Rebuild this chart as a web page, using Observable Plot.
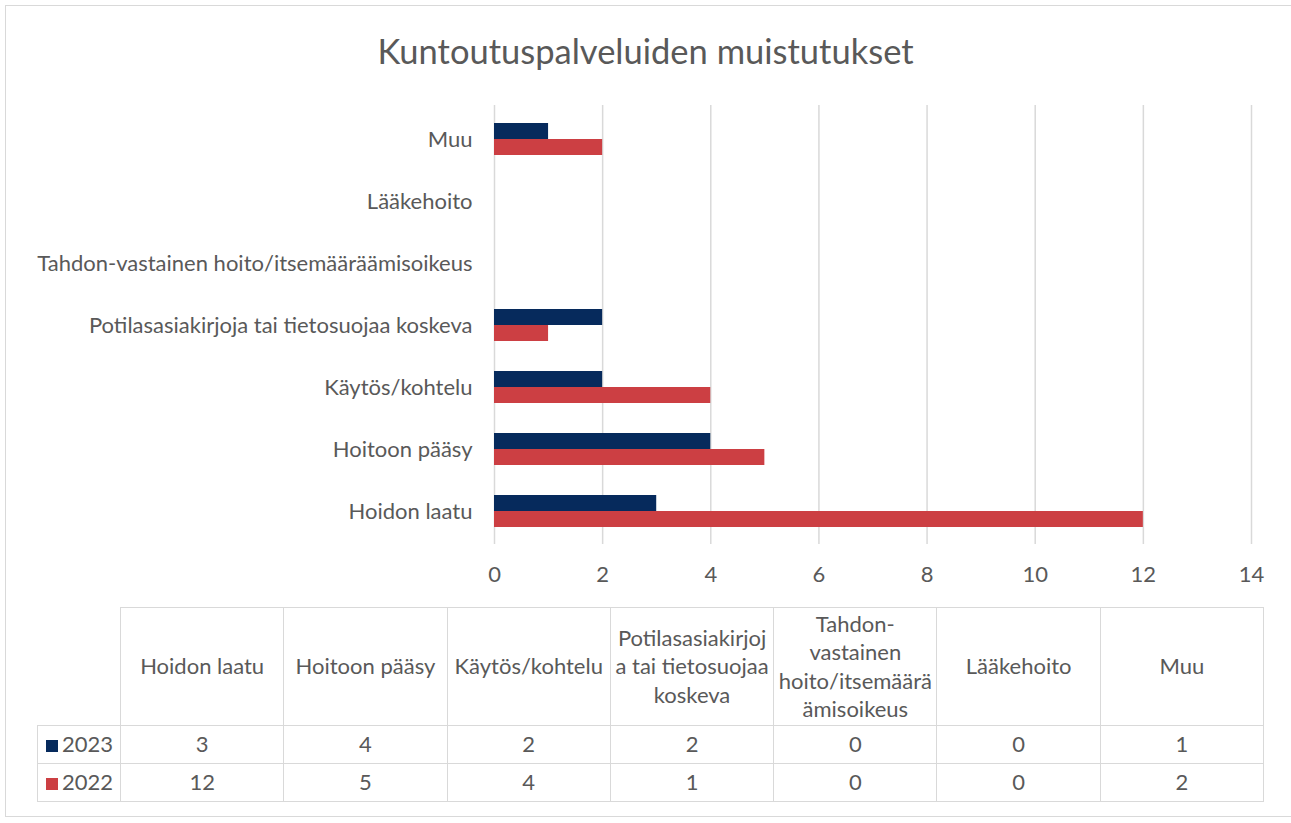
<!DOCTYPE html>
<html>
<head>
<meta charset="utf-8">
<script src="https://cdn.jsdelivr.net/npm/d3@7"></script>
<script src="https://cdn.jsdelivr.net/npm/@observablehq/plot@0.6"></script>
<style>
  html, body { margin: 0; padding: 0; background: #fff; }
  #frame { position: relative; width: 1291px; height: 823px; overflow: hidden; font-family: Lato, sans-serif; color: #595959; }
  #border { position: absolute; left: 5px; top: 5px; width: 1290px; height: 812px; border: 1.5px solid #d9d9d9; box-sizing: border-box; }
  #title { position: absolute; left: 0; width: 1291px; top: 30px; text-align: center; font-size: 34.5px; color: #595959; }
  #chart { position: absolute; left: 0; top: 90px; }
  #tbl { position: absolute; left: 37px; top: 607px; border-collapse: collapse; table-layout: fixed; width: 1226px; font-size: 22px; color: #595959; }
  #tbl td { border: 1.5px solid #d9d9d9; text-align: center; padding: 0; line-height: 28.5px; white-space: nowrap; overflow: visible; }
  #tbl td.corner { border: none; }
  #tbl tr.head td { height: 117px; }
  #tbl tr.row td { height: 37px; }
  #tbl td.lab { text-align: left; padding-left: 8px; }
  .sw { display: inline-block; width: 12px; height: 12px; margin-right: 4px; vertical-align: 0px; }
</style>
</head>
<body>
<div id="frame">
  <div id="border"></div>
  <div id="title"></div>
  <div id="chart"></div>
  <table id="tbl"></table>
</div>
<script>
const title = "Kuntoutuspalveluiden muistutukset";
const categories = ["Hoidon laatu", "Hoitoon pääsy", "Käytös/kohtelu", "Potilasasiakirjoja tai tietosuojaa koskeva", "Tahdon-vastainen hoito/itsemääräämisoikeus", "Lääkehoito", "Muu"];
const headerLines = [["Hoidon laatu"], ["Hoitoon pääsy"], ["Käytös/kohtelu"], ["Potilasasiakirjoj", "a tai tietosuojaa", "koskeva"], ["Tahdon-", "vastainen", "hoito/itsemäärä", "ämisoikeus"], ["Lääkehoito"], ["Muu"]];
const years = ["2023", "2022"];
const values2023 = [3, 4, 2, 2, 0, 0, 1];
const values2022 = [12, 5, 4, 1, 0, 0, 2];
const colors = ["#062a5c", "#cc3f43"];
const xTicks = [0, 2, 4, 6, 8, 10, 12, 14];

document.getElementById("title").textContent = title;

const data = [];
categories.forEach((c, i) => {
  data.push({category: c, year: "2023", value: values2023[i]});
  data.push({category: c, year: "2022", value: values2022[i]});
});

const yDomain = categories.slice().reverse();

const chart = Plot.plot({
  width: 1291,
  height: 499,
  marginLeft: 494,
  marginRight: 40,
  marginTop: 15,
  marginBottom: 45,
  style: {fontFamily: "Lato, sans-serif", fontSize: "22px", color: "#595959"},
  x: {domain: [0, 14]},
  y: {domain: yDomain, paddingInner: 0.49, paddingOuter: 0.245},
  color: {domain: years, range: colors},
  marks: [
    Plot.gridX(xTicks, {stroke: "#d9d9d9", strokeOpacity: 1, strokeWidth: 1.5}),
    Plot.barX(data.filter(d => d.year === "2023"), {x: "value", y: "category", fill: d => d.year, insetBottom: 16}),
    Plot.barX(data.filter(d => d.year === "2022"), {x: "value", y: "category", fill: d => d.year, insetTop: 16}),
    Plot.axisX({ticks: xTicks, tickSize: 0, tickPadding: 22, label: null, fill: "#595959", tickFormat: d3.format("d")}),
    Plot.axisY({tickSize: 0, tickPadding: 22, label: null, fill: "#595959"})
  ]
});
document.getElementById("chart").appendChild(chart);

// data table
const tbl = document.getElementById("tbl");
const cg = document.createElement("colgroup");
const firstCol = document.createElement("col");
firstCol.style.width = "83px";
cg.appendChild(firstCol);
categories.forEach(() => {
  const col = document.createElement("col");
  col.style.width = "163.3px";
  cg.appendChild(col);
});
tbl.appendChild(cg);
const head = document.createElement("tr");
head.className = "head";
const corner = document.createElement("td");
corner.className = "corner";
head.appendChild(corner);
headerLines.forEach(lines => {
  const td = document.createElement("td");
  td.innerHTML = lines.join("<br>");
  head.appendChild(td);
});
tbl.appendChild(head);
[values2023, values2022].forEach((vals, k) => {
  const tr = document.createElement("tr");
  tr.className = "row";
  const lab = document.createElement("td");
  lab.className = "lab";
  lab.innerHTML = `<span class="sw" style="background:${colors[k]}"></span>${years[k]}`;
  tr.appendChild(lab);
  vals.forEach(v => {
    const td = document.createElement("td");
    td.textContent = v;
    tr.appendChild(td);
  });
  tbl.appendChild(tr);
});
</script>
</body>
</html>
